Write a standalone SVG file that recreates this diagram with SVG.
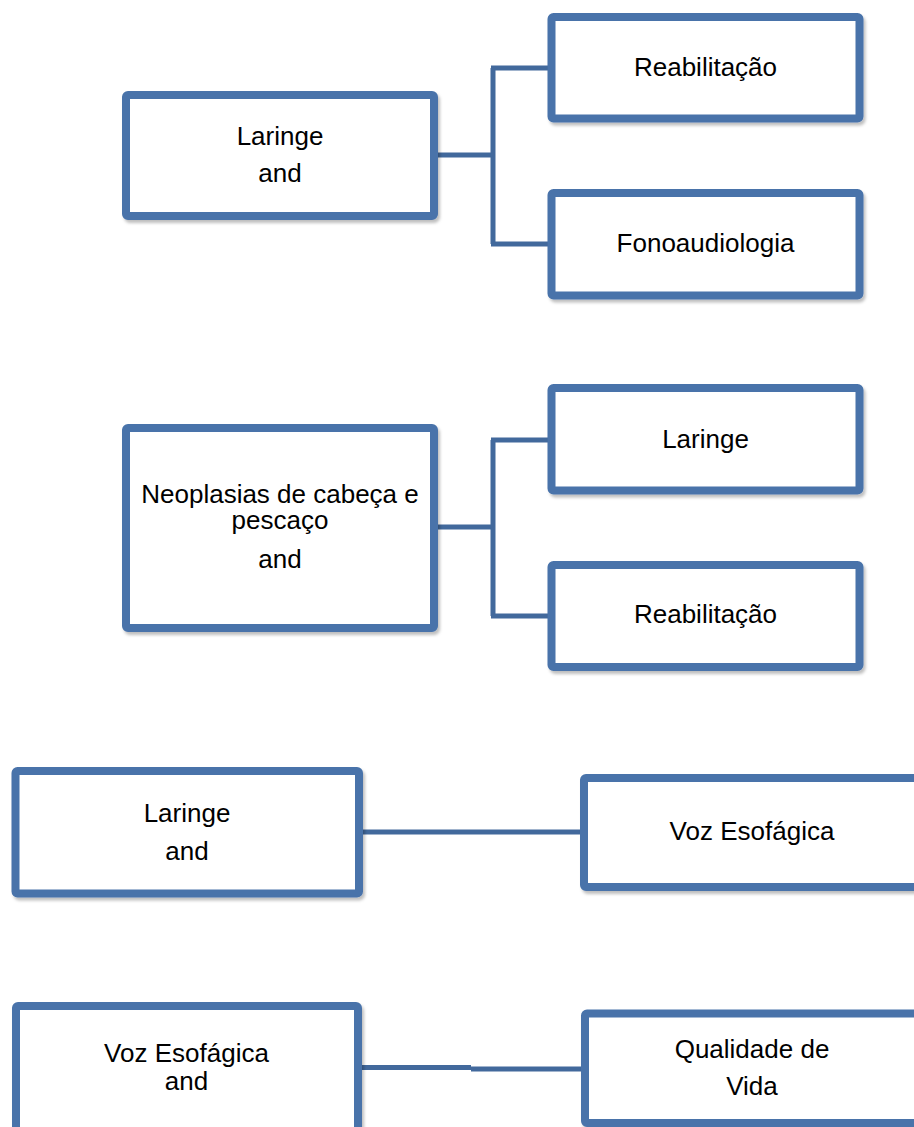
<svg xmlns="http://www.w3.org/2000/svg" width="914" height="1127" viewBox="0 0 914 1127">
<defs>
<filter id="sh" x="-5%" y="-5%" width="115%" height="120%">
<feDropShadow dx="2" dy="3" stdDeviation="1.5" flood-color="#000" flood-opacity="0.25"/>
</filter>
<style>
.box{fill:#fff;stroke:#4873AA;stroke-width:8;filter:url(#sh)}
.t{font-family:"Liberation Sans",Arial,sans-serif;font-size:26px;fill:#000;text-anchor:middle}
.c{fill:none;stroke:#42699C;stroke-width:5;stroke-linejoin:miter}
</style>
</defs>
<rect width="914" height="1127" fill="#fff"/>
<g id="connectors">
<path class="c" d="M438 155 H493 M493 68 V244 M491 68 H551 M491 244 H551"/>
<path class="c" d="M438 527 H493 M493 440 V616 M491 440 H551 M491 616 H551"/>
<path class="c" d="M362 832 H584"/>
<path class="c" d="M362 1067.5 H471 M471 1069 H584"/>
</g>
<g id="n1"><rect class="box" x="126" y="95" width="308" height="121" rx="2"/>
<text class="t" x="280" y="145">Laringe</text><text class="t" x="280" y="182">and</text></g>
<g id="n2"><rect class="box" x="551.5" y="17" width="308" height="101.5" rx="2"/>
<text class="t" x="705.5" y="76">Reabilitação</text></g>
<g id="n3"><rect class="box" x="551.5" y="193" width="308" height="102.5" rx="2"/>
<text class="t" x="705.5" y="252">Fonoaudiologia</text></g>
<g id="n4"><rect class="box" x="126" y="428" width="308" height="200" rx="2"/>
<text class="t" x="280" y="503">Neoplasias de cabeça e</text><text class="t" x="280" y="529">pescaço</text><text class="t" x="280" y="568">and</text></g>
<g id="n5"><rect class="box" x="551.5" y="388" width="308" height="102.5" rx="2"/>
<text class="t" x="705.5" y="448">Laringe</text></g>
<g id="n6"><rect class="box" x="551.5" y="565" width="308" height="102" rx="2"/>
<text class="t" x="705.5" y="623">Reabilitação</text></g>
<g id="n7"><rect class="box" x="15.5" y="771" width="343.5" height="122.5" rx="2"/>
<text class="t" x="187" y="822">Laringe</text><text class="t" x="187" y="860">and</text></g>
<g id="n8"><rect class="box" x="584" y="778" width="360" height="109" rx="2"/>
<text class="t" x="752" y="840">Voz Esofágica</text></g>
<g id="n9"><rect class="box" x="16" y="1006" width="342" height="160" rx="2"/>
<text class="t" x="186.5" y="1062">Voz Esofágica</text><text class="t" x="186.5" y="1090">and</text></g>
<g id="n10"><rect class="box" x="585" y="1013.5" width="360" height="109.5" rx="2"/>
<text class="t" x="752" y="1058">Qualidade de</text><text class="t" x="752" y="1095">Vida</text></g>
</svg>
